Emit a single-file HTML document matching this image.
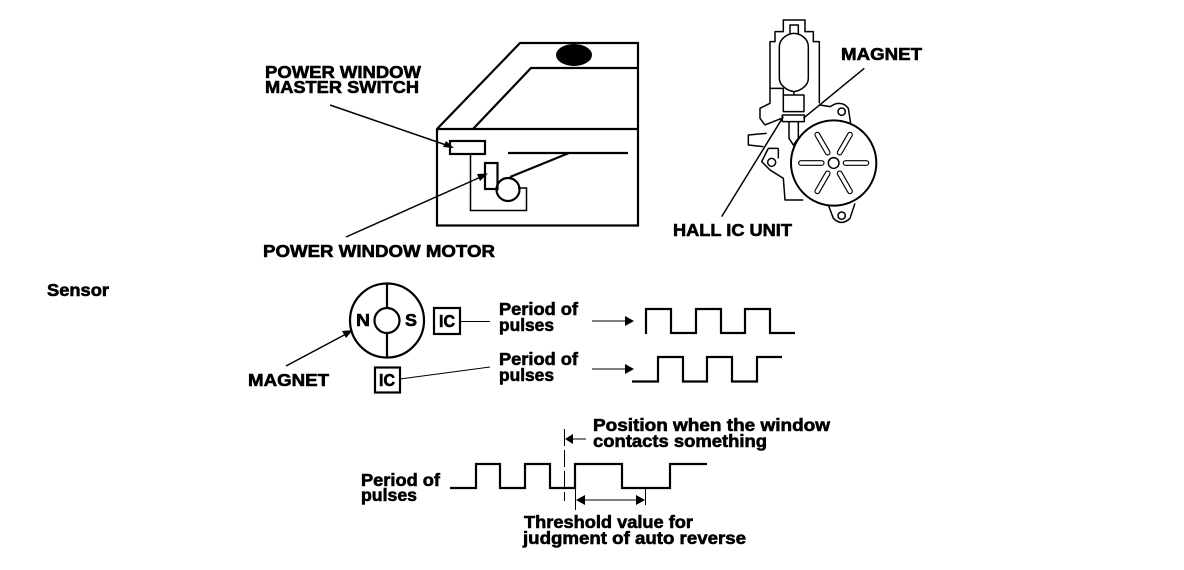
<!DOCTYPE html>
<html><head><meta charset="utf-8"><style>
html,body{margin:0;padding:0;background:#fff;width:1184px;height:570px;overflow:hidden}
svg{display:block}
text{font-family:"Liberation Sans",sans-serif;font-weight:bold;font-size:17.5px;fill:#000;stroke:#000;stroke-width:.6px}
.l{fill:none;stroke:#000;stroke-width:1.5}
.n{fill:none;stroke:#000;stroke-width:1}
.t{fill:none;stroke:#000;stroke-width:2.2}
.m{fill:none;stroke:#000;stroke-width:4.5;stroke-linejoin:round}
.s{fill:none;stroke:#000;stroke-width:3.5}
.h{fill:#000;stroke:none}
</style></head><body>
<svg width="1184" height="570" viewBox="0 0 1184 570" xmlns="http://www.w3.org/2000/svg">
<!-- Door -->
<path class="t" d="M437 129L520 43H638V225.5H437ZM437 129H638M473 129L531 68H638"/>
<ellipse class="h" cx="574" cy="55" rx="18" ry="11"/>
<rect class="t" x="450" y="141" width="35" height="13"/>
<path class="t" d="M508 153H628M569 153L510 177"/>
<circle class="t" cx="508" cy="189.5" r="11.5"/>
<rect class="t" x="485" y="163" width="12.5" height="26"/>
<path class="l" d="M470.5 154V210.5H526.5V188H518"/>
<path class="l" d="M330 105L449 146"/><path class="h" d="M454 148L443 147L446 141Z"/>
<path class="l" d="M346 237L483 176"/><path class="h" d="M488 173.500L480 181L477 174Z"/>
<text x="265" y="78" textLength="156" lengthAdjust="spacingAndGlyphs">POWER WINDOW</text>
<text x="265" y="93" textLength="154" lengthAdjust="spacingAndGlyphs">MASTER SWITCH</text>
<text x="263" y="257" textLength="232" lengthAdjust="spacingAndGlyphs">POWER WINDOW MOTOR</text>
<!-- Motor -->
<g transform="translate(720 0) scale(.3333)">
<path class="m" d="M190 285V265H150V125H165V95H190V60H255V95H280V125H298V310"/>
<path class="m" d="M210 100V75H235V100"/>
<path class="m" d="M150 265V310L120 325V355L135 375L185 355M140 400L85 405V435L130 440"/>
<path class="m" d="M178 140C178 115 205 100 222 100C240 100 265 115 265 140V235C265 255 245 272 222 275C200 272 178 255 178 235Z"/>
<path class="m" d="M222 275V285"/>
<rect class="m" x="190" y="285" width="62" height="50"/>
<rect class="m" x="187" y="345" width="66" height="20" stroke-width="7"/>
<path class="m" d="M207 365V415L220 435L235 415V365"/>
<path class="m" d="M300 315L330 320L345 312Q370 305 385 325L392 370M175 445H145L125 485L150 510L190 535L195 600H250"/>
<path class="m" d="M175 445V475"/>
<circle class="m" cx="365" cy="335" r="11"/>
<circle class="m" cx="155" cy="487" r="12"/>
<path class="m" d="M325 615L340 655Q365 680 390 655L405 610"/>
<circle class="m" cx="365" cy="647" r="11"/>
<circle cx="341" cy="489" r="128" fill="#fff" stroke="#000" stroke-width="6"/>
<circle class="m" cx="341" cy="489" r="16"/>
<rect class="s" x="370" y="482" width="76" height="14" rx="7"/>
<rect class="s" x="236" y="482" width="76" height="14" rx="7"/>
<rect class="s" x="370" y="482" width="76" height="14" rx="7" transform="rotate(60 341 489)"/>
<rect class="s" x="370" y="482" width="76" height="14" rx="7" transform="rotate(120 341 489)"/>
<rect class="s" x="370" y="482" width="76" height="14" rx="7" transform="rotate(240 341 489)"/>
<rect class="s" x="370" y="482" width="76" height="14" rx="7" transform="rotate(300 341 489)"/>
<path class="m" d="M433 205L250 355M5 650L190 350"/>
</g>
<text x="841" y="60" textLength="81" lengthAdjust="spacingAndGlyphs">MAGNET</text>
<text x="673" y="236" textLength="119" lengthAdjust="spacingAndGlyphs">HALL IC UNIT</text>
<!-- Sensor -->
<text x="47" y="296" textLength="62" lengthAdjust="spacingAndGlyphs">Sensor</text>
<circle class="t" cx="387" cy="320.500" r="37"/>
<circle class="t" cx="387" cy="320.500" r="12.500"/>
<path class="t" d="M387 284V308M387 333V357"/>
<text x="356" y="326" textLength="14" lengthAdjust="spacingAndGlyphs">N</text>
<text x="405" y="326" textLength="12" lengthAdjust="spacingAndGlyphs">S</text>
<rect class="t" x="434" y="308" width="26" height="26"/>
<rect class="t" x="375" y="367.500" width="25" height="25"/>
<text x="439" y="327" textLength="16" lengthAdjust="spacingAndGlyphs">IC</text>
<text x="379" y="386" textLength="16" lengthAdjust="spacingAndGlyphs">IC</text>
<path class="n" d="M460 321.500H490M400 379L490 367"/>
<path class="l" d="M286 366L348 333"/><path class="h" d="M353 330L346 338L342 331Z"/>
<text x="248" y="386" textLength="81" lengthAdjust="spacingAndGlyphs">MAGNET</text>
<text x="499" y="315" textLength="79" lengthAdjust="spacingAndGlyphs">Period of</text>
<text x="499" y="331" textLength="55" lengthAdjust="spacingAndGlyphs">pulses</text>
<text x="499" y="365" textLength="79" lengthAdjust="spacingAndGlyphs">Period of</text>
<text x="499" y="381" textLength="55" lengthAdjust="spacingAndGlyphs">pulses</text>
<path class="n" d="M592 321H625M592 369H625"/>
<path class="h" d="M634 321L625 316V326ZM634 369L625 364V374Z"/>
<path class="t" d="M646 334V309H671V333H696V309H721V333H745V309H770V333H795"/>
<path class="t" d="M632 381.500H658V357H683V381.500H707V357H732V381.500H757V357H782"/>
<!-- Bottom -->
<text x="593" y="431" textLength="237" lengthAdjust="spacingAndGlyphs">Position when the window</text>
<text x="593" y="447" textLength="174" lengthAdjust="spacingAndGlyphs">contacts something</text>
<path class="n" d="M564.500 429V501" stroke-dasharray="17 4 17 4"/>
<path class="n" d="M572 439H586"/><path class="h" d="M565 439L573 434V444Z"/>
<text x="361" y="486" textLength="79" lengthAdjust="spacingAndGlyphs">Period of</text>
<text x="361" y="501" textLength="56" lengthAdjust="spacingAndGlyphs">pulses</text>
<path class="t" d="M450 488H476V464H500V488H525V464H550V488H575V464H622V488H670V464H707"/>
<path class="n" d="M575.500 488V510M645.500 488V505M584 500H637"/>
<path class="h" d="M576 500L585 495V505ZM645 500L636 495V505Z"/>
<text x="524" y="528" textLength="169" lengthAdjust="spacingAndGlyphs">Threshold value for</text>
<text x="523" y="544" textLength="223" lengthAdjust="spacingAndGlyphs">judgment of auto reverse</text>
</svg>
</body></html>
